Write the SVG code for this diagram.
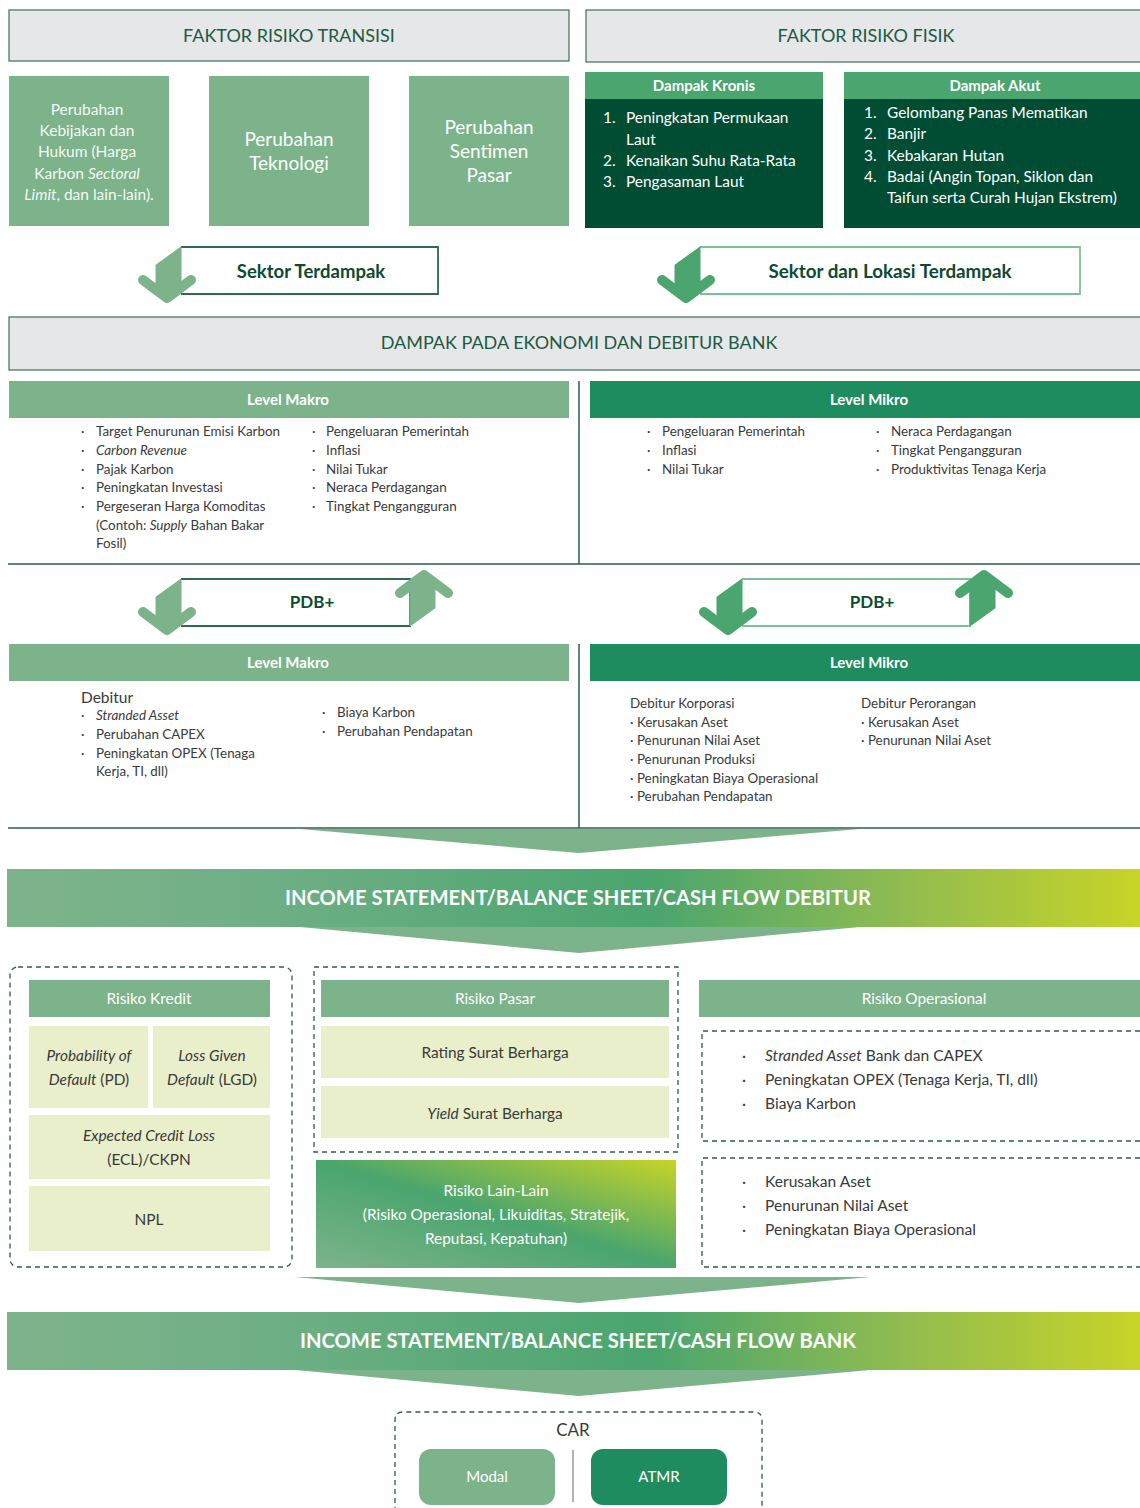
<svg xmlns="http://www.w3.org/2000/svg" width="1140" height="1508" viewBox="0 0 1140 1508">
<defs>
<linearGradient id="band" x1="0" y1="0" x2="1" y2="0">
<stop offset="0" stop-color="#7db38a"/>
<stop offset="0.2" stop-color="#72b087"/>
<stop offset="0.57" stop-color="#4aa56e"/>
<stop offset="0.78" stop-color="#8dbb52"/>
<stop offset="1" stop-color="#c8d427"/>
</linearGradient>
<linearGradient id="lain" x1="0" y1="1" x2="1" y2="0">
<stop offset="0" stop-color="#7db38a"/>
<stop offset="0.5" stop-color="#4aa56e"/>
<stop offset="1" stop-color="#c8d427"/>
</linearGradient>
<g id="downArr">
<path d="M0,0 L-25,18 L-25,45 L-14,53 L0,45 Z"/>
<path d="M-38,33 L-14,51 L10,33" fill="none" stroke-width="10" stroke-linecap="round" stroke-linejoin="round"/>
</g>
</defs>
<style>
text{font-family:Lato,"Open Sans","Liberation Sans",sans-serif}
.hdr{fill:#e6e7e8;stroke:#3c6e58;stroke-width:1.2}
.hdrt{fill:#1d5a42;font-size:18px;text-anchor:middle}
.lg{fill:#7db38a}
.mg{fill:#4aa56e}
.dg{fill:#004d33}
.mk{fill:#1f8c5f}
.wt{fill:#ffffff;text-anchor:middle}
.wb{fill:#ffffff;text-anchor:middle;font-weight:bold;font-size:15px}
.body{fill:#3a3a3a;font-size:13.4px}
.bl{fill:#ffffff;font-size:15.4px}
.cream{fill:#e8efca}
.dash{fill:none;stroke:#2d5c48;stroke-width:1.3;stroke-dasharray:5,4}
.line{stroke:#2d5c48;stroke-width:1.5;fill:none}
.arrL{fill:#7db38a;stroke:#7db38a}
.arrR{fill:#4aa56e;stroke:#4aa56e}
.ctr{fill:#3a3a3a;font-size:15.4px;text-anchor:middle}
.band{fill:#ffffff;font-weight:bold;font-size:20px;text-anchor:middle}
.sek{fill:#0d4a32;font-weight:bold;text-anchor:middle}
</style>

<g id="faktor-transisi">
<rect class="hdr" x="9" y="10" width="560" height="51"/>
<text class="hdrt" x="289" y="42">FAKTOR RISIKO TRANSISI</text>
</g>
<g id="faktor-fisik">
<rect class="hdr" x="586" y="10" width="560" height="52"/>
<text class="hdrt" x="866" y="42">FAKTOR RISIKO FISIK</text>
</g>

<g id="kebijakan">
<rect class="lg" x="9" y="76" width="160" height="150"/>
<text class="wt" font-size="15.5" fill-opacity="0.95">
<tspan x="89" y="115">Perubahan</tspan>
<tspan x="89" y="136">Kebijakan dan</tspan>
<tspan x="89" y="157">Hukum (Harga</tspan>
<tspan x="89" y="179">Karbon <tspan font-style="italic">Sectoral</tspan></tspan>
<tspan x="89" y="200"><tspan font-style="italic">Limit</tspan>, dan lain-lain).</tspan>
</text>
</g>
<g id="teknologi">
<rect class="lg" x="209" y="76" width="160" height="150"/>
<text class="wt" font-size="19"><tspan x="289" y="146">Perubahan</tspan><tspan x="289" y="170">Teknologi</tspan></text>
</g>
<g id="sentimen">
<rect class="lg" x="409" y="76" width="160" height="150"/>
<text class="wt" font-size="19"><tspan x="489" y="134">Perubahan</tspan><tspan x="489" y="158">Sentimen</tspan><tspan x="489" y="182">Pasar</tspan></text>
</g>

<g id="kronis">
<rect class="mg" x="585" y="72" width="238" height="27"/>
<rect class="dg" x="585" y="99" width="238" height="129"/>
<text class="wb" x="704" y="91">Dampak Kronis</text>
<text class="bl">
<tspan x="603" y="123">1.</tspan><tspan x="626" y="123">Peningkatan Permukaan</tspan>
<tspan x="626" y="145">Laut</tspan>
<tspan x="603" y="166">2.</tspan><tspan x="626" y="166">Kenaikan Suhu Rata-Rata</tspan>
<tspan x="603" y="187">3.</tspan><tspan x="626" y="187">Pengasaman Laut</tspan>
</text>
</g>
<g id="akut">
<rect class="mg" x="844" y="72" width="296" height="27"/>
<rect class="dg" x="844" y="99" width="296" height="129"/>
<text class="wb" x="995" y="91">Dampak Akut</text>
<text class="bl">
<tspan x="864" y="118">1.</tspan><tspan x="887" y="118">Gelombang Panas Mematikan</tspan>
<tspan x="864" y="139">2.</tspan><tspan x="887" y="139">Banjir</tspan>
<tspan x="864" y="161">3.</tspan><tspan x="887" y="161">Kebakaran Hutan</tspan>
<tspan x="864" y="182">4.</tspan><tspan x="887" y="182">Badai (Angin Topan, Siklon dan</tspan>
<tspan x="887" y="203">Taifun serta Curah Hujan Ekstrem)</tspan>
</text>
</g>

<g id="sektor-terdampak">
<path d="M181,247 H438 V294 H181" fill="#fff" stroke="#2d6a4f" stroke-width="1.8"/>
<use href="#downArr" x="181" y="247" class="arrL"/>
<text class="sek" x="311" y="278" font-size="18.5">Sektor Terdampak</text>
</g>
<g id="sektor-lokasi">
<path d="M700,247 H1080 V294 H700" fill="#fff" stroke="#7dc096" stroke-width="1.8"/>
<use href="#downArr" x="700" y="247" class="arrR"/>
<text class="sek" x="890" y="278" font-size="18.8">Sektor dan Lokasi Terdampak</text>
</g>

<g id="dampak-ekonomi">
<rect class="hdr" x="9" y="317" width="1140" height="53"/>
<text class="hdrt" x="579" y="349">DAMPAK PADA EKONOMI DAN DEBITUR BANK</text>
</g>

<g id="makro1">
<rect class="lg" x="9" y="381" width="560" height="37"/>
<text class="wb" x="288" y="405">Level Makro</text>
<text class="body">
<tspan x="81" y="436">·</tspan><tspan x="96" y="436">Target Penurunan Emisi Karbon</tspan>
<tspan x="81" y="455">·</tspan><tspan x="96" y="455" font-style="italic">Carbon Revenue</tspan>
<tspan x="81" y="474">·</tspan><tspan x="96" y="474">Pajak Karbon</tspan>
<tspan x="81" y="492">·</tspan><tspan x="96" y="492">Peningkatan Investasi</tspan>
<tspan x="81" y="511">·</tspan><tspan x="96" y="511">Pergeseran Harga Komoditas</tspan>
<tspan x="96" y="530">(Contoh: <tspan font-style="italic">Supply</tspan> Bahan Bakar</tspan>
<tspan x="96" y="548">Fosil)</tspan>
</text>
<text class="body">
<tspan x="312" y="436">·</tspan><tspan x="326" y="436">Pengeluaran Pemerintah</tspan>
<tspan x="312" y="455">·</tspan><tspan x="326" y="455">Inflasi</tspan>
<tspan x="312" y="474">·</tspan><tspan x="326" y="474">Nilai Tukar</tspan>
<tspan x="312" y="492">·</tspan><tspan x="326" y="492">Neraca Perdagangan</tspan>
<tspan x="312" y="511">·</tspan><tspan x="326" y="511">Tingkat Pengangguran</tspan>
</text>
</g>
<g id="mikro1">
<rect class="mk" x="590" y="381" width="550" height="37"/>
<text class="wb" x="869" y="405">Level Mikro</text>
<text class="body">
<tspan x="647" y="436">·</tspan><tspan x="662" y="436">Pengeluaran Pemerintah</tspan>
<tspan x="647" y="455">·</tspan><tspan x="662" y="455">Inflasi</tspan>
<tspan x="647" y="474">·</tspan><tspan x="662" y="474">Nilai Tukar</tspan>
<tspan x="876" y="436">·</tspan><tspan x="891" y="436">Neraca Perdagangan</tspan>
<tspan x="876" y="455">·</tspan><tspan x="891" y="455">Tingkat Pengangguran</tspan>
<tspan x="876" y="474">·</tspan><tspan x="891" y="474">Produktivitas Tenaga Kerja</tspan>
</text>
</g>

<g id="pdb-left">
<path d="M181,579 H410 V626 H181" fill="#fff" stroke="#2d6a4f" stroke-width="1.8"/>
<use href="#downArr" x="181" y="579" class="arrL"/>
<use href="#downArr" transform="rotate(180 410 626)" x="410" y="626" class="arrL"/>
<text class="sek" x="312" y="608" font-size="17">PDB+</text>
</g>
<g id="pdb-right">
<path d="M742,579 H970 V626 H742" fill="#fff" stroke="#7dc096" stroke-width="1.8"/>
<use href="#downArr" x="742" y="579" class="arrR"/>
<use href="#downArr" transform="rotate(180 970 626)" x="970" y="626" class="arrR"/>
<text class="sek" x="872" y="608" font-size="17">PDB+</text>
</g>

<g id="makro2">
<rect class="lg" x="9" y="644" width="560" height="37"/>
<text class="wb" x="288" y="668">Level Makro</text>
<text x="81" y="703" fill="#3a3a3a" font-size="15.5">Debitur</text>
<text class="body">
<tspan x="81" y="720">·</tspan><tspan x="96" y="720" font-style="italic">Stranded Asset</tspan>
<tspan x="81" y="739">·</tspan><tspan x="96" y="739">Perubahan CAPEX</tspan>
<tspan x="81" y="758">·</tspan><tspan x="96" y="758">Peningkatan OPEX (Tenaga</tspan>
<tspan x="96" y="776">Kerja, TI, dll)</tspan>
<tspan x="322" y="717">·</tspan><tspan x="337" y="717">Biaya Karbon</tspan>
<tspan x="322" y="736">·</tspan><tspan x="337" y="736">Perubahan Pendapatan</tspan>
</text>
</g>
<g id="mikro2">
<rect class="mk" x="590" y="644" width="550" height="37"/>
<text class="wb" x="869" y="668">Level Mikro</text>
<text class="body">
<tspan x="630" y="708">Debitur Korporasi</tspan>
<tspan x="630" y="727">· Kerusakan Aset</tspan>
<tspan x="630" y="745">· Penurunan Nilai Aset</tspan>
<tspan x="630" y="764">· Penurunan Produksi</tspan>
<tspan x="630" y="783">· Peningkatan Biaya Operasional</tspan>
<tspan x="630" y="801">· Perubahan Pendapatan</tspan>
<tspan x="861" y="708">Debitur Perorangan</tspan>
<tspan x="861" y="727">· Kerusakan Aset</tspan>
<tspan x="861" y="745">· Penurunan Nilai Aset</tspan>
</text>
</g>

<g id="connectors">
<line class="line" x1="579" y1="381" x2="579" y2="564"/>
<line class="line" x1="8" y1="564" x2="1140" y2="564"/>
<line class="line" x1="579" y1="644" x2="579" y2="828"/>
<line class="line" x1="8" y1="828" x2="1140" y2="828"/>
<polygon class="lg" points="300,829 860,829 579,853"/>
<polygon class="lg" points="300,927 860,927 579,953"/>
<polygon class="lg" points="295,1277 870,1277 579,1303"/>
<polygon class="lg" points="295,1370 870,1370 579,1396"/>
<line x1="573" y1="1450" x2="573" y2="1502" stroke="#9a9a9a" stroke-width="1.5"/>
</g>

<g id="is-debitur">
<rect x="7" y="869" width="1133" height="58" fill="url(#band)"/>
<text class="band" x="578" y="905" textLength="586" lengthAdjust="spacingAndGlyphs">INCOME STATEMENT/BALANCE SHEET/CASH FLOW DEBITUR</text>
</g>

<g id="risiko-kredit">
<rect class="dash" x="10" y="967" width="282" height="300" rx="8"/>
<rect class="lg" x="29" y="980" width="241" height="37"/>
<text class="wt" font-size="15.4" x="149" y="1004">Risiko Kredit</text>
<rect class="cream" x="29" y="1026" width="119" height="82"/>
<rect class="cream" x="153" y="1026" width="117" height="82"/>
<rect class="cream" x="29" y="1115" width="241" height="64"/>
<rect class="cream" x="29" y="1186" width="241" height="65"/>
<text class="ctr"><tspan x="89" y="1061" font-style="italic">Probability of</tspan><tspan x="89" y="1085"><tspan font-style="italic">Default</tspan> (PD)</tspan></text>
<text class="ctr"><tspan x="212" y="1061" font-style="italic">Loss Given</tspan><tspan x="212" y="1085"><tspan font-style="italic">Default</tspan> (LGD)</tspan></text>
<text class="ctr"><tspan x="149" y="1141" font-style="italic">Expected Credit Loss</tspan><tspan x="149" y="1165">(ECL)/CKPN</tspan></text>
<text class="ctr" x="149" y="1225">NPL</text>
</g>

<g id="risiko-pasar">
<rect class="dash" x="314" y="967" width="364" height="185"/>
<rect class="lg" x="321" y="980" width="348" height="37"/>
<text class="wt" font-size="15.4" x="495" y="1004">Risiko Pasar</text>
<rect class="cream" x="321" y="1026" width="348" height="52"/>
<rect class="cream" x="321" y="1086" width="348" height="52"/>
<text class="ctr" x="495" y="1058">Rating Surat Berharga</text>
<text class="ctr" x="495" y="1119"><tspan font-style="italic">Yield</tspan> Surat Berharga</text>
</g>

<g id="risiko-lain">
<rect x="316" y="1160" width="360" height="108" fill="url(#lain)"/>
<text class="wt" font-size="15.4"><tspan x="496" y="1196">Risiko Lain-Lain</tspan><tspan x="496" y="1220">(Risiko Operasional, Likuiditas, Stratejik,</tspan><tspan x="496" y="1244">Reputasi, Kepatuhan)</tspan></text>
</g>

<g id="risiko-operasional">
<rect class="lg" x="699" y="980" width="441" height="37"/>
<text class="wt" font-size="15.4" x="924" y="1004">Risiko Operasional</text>
<path class="dash" d="M1140,1031 H702 V1141 H1140"/>
<path class="dash" d="M1140,1158 H702 V1267 H1140"/>
<text x="0" y="0" fill="#3a3a3a" font-size="15.6">
<tspan x="742" y="1061">·</tspan><tspan x="765" y="1061"><tspan font-style="italic">Stranded Asset</tspan> Bank dan CAPEX</tspan>
<tspan x="742" y="1085">·</tspan><tspan x="765" y="1085">Peningkatan OPEX (Tenaga Kerja, TI, dll)</tspan>
<tspan x="742" y="1109">·</tspan><tspan x="765" y="1109">Biaya Karbon</tspan>
<tspan x="742" y="1187">·</tspan><tspan x="765" y="1187">Kerusakan Aset</tspan>
<tspan x="742" y="1211">·</tspan><tspan x="765" y="1211">Penurunan Nilai Aset</tspan>
<tspan x="742" y="1235">·</tspan><tspan x="765" y="1235">Peningkatan Biaya Operasional</tspan>
</text>
</g>

<g id="is-bank">
<rect x="7" y="1312" width="1133" height="58" fill="url(#band)"/>
<text class="band" x="578" y="1348" textLength="556" lengthAdjust="spacingAndGlyphs">INCOME STATEMENT/BALANCE SHEET/CASH FLOW BANK</text>
</g>

<g id="car">
<path class="dash" d="M395,1512 V1420 Q395,1412 403,1412 H754 Q762,1412 762,1420 V1512"/>
<text x="573" y="1436" fill="#3a3a3a" font-size="17" text-anchor="middle">CAR</text>
<rect class="lg" x="419" y="1449" width="136" height="56" rx="12"/>
<text class="wt" font-size="15" x="487" y="1482">Modal</text>
<rect class="mk" x="591" y="1449" width="136" height="56" rx="12"/>
<text class="wt" font-size="15" x="659" y="1482">ATMR</text>
</g>
</svg>
